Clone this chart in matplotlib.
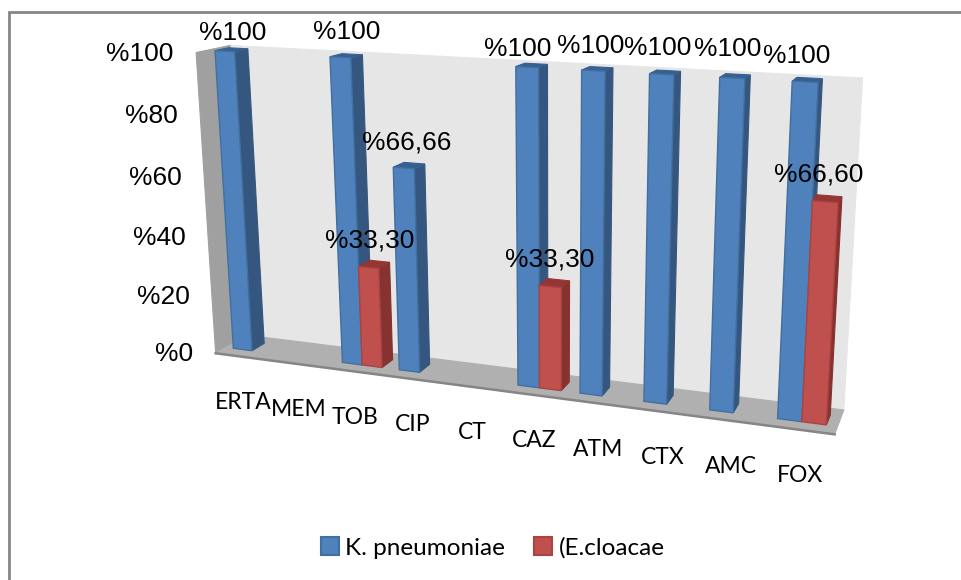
import numpy as np
import matplotlib
matplotlib.use('Agg')
import matplotlib.pyplot as plt
from matplotlib.patches import Polygon, Patch

categories = ['ERTA', 'MEM', 'TOB', 'CIP', 'CT', 'CAZ', 'ATM', 'CTX', 'AMC', 'FOX']
pneumoniae = [100, 0, 100, 66.66, 0, 100, 100, 100, 100, 100]
cloacae = [0, 0, 33.30, 0, 0, 33.30, 0, 0, 0, 66.60]
value_ticks = [0, 20, 40, 60, 80, 100]
series_names = ['K. pneumoniae', '(E.cloacae']

# offsets of the value labels from the top of their bar, in pixels
pneumoniae_nudge = {0: (8, -18), 2: (6, -25), 3: (3, -26), 5: (-9, -18), 6: (-3, -25),
                    7: (-4, -26), 8: (-5, -29), 9: (-8.5, -26)}
cloacae_nudge = {2: (1, -27), 5: (-1, -27), 9: (-7, -27)}

# (category fraction, value fraction, depth) -> pixel, used to fit the camera
calib_box = np.array([(0, 1, 0), (0, 0, 0), (1, 0, 0), (0, 1, 1), (0, 0, 1), (1, 0, 1), (1, 1, 1),
                      (.0115, 0, .32), (.3115, 0, .32), (.7115, 0, .32), (.9115, 0, .32), (.9115, 1, .32)])
calib_px = np.array([(197, 52), (215, 353), (834, 434), (229, 46), (248, 335), (844, 410), (862, 77),
                     (232, 348), (397, 370), (643, 402), (776, 418), (791, 82)]) / 1000.0

BAR_W = 0.035
GAP = 0.14
D0, D1 = 0.32, 0.72


def fit_camera(box, px):
    rows = []
    for (x, y, z), (a, b) in zip(box, px):
        rows.append([x, y, z, 1, 0, 0, 0, 0, -a * x, -a * y, -a * z, -a])
        rows.append([0, 0, 0, 0, x, y, z, 1, -b * x, -b * y, -b * z, -b])
    _, _, vt = np.linalg.svd(np.array(rows))
    return vt[-1].reshape(3, 4)


camera = fit_camera(calib_box, calib_px)


def project(u, v, d):
    p = camera @ np.array([u, v, d, 1.0])
    return p[0] / p[2] * 1000, p[1] / p[2] * 1000


def face(ax, pts, color, edge=None, lw=0.8, z=1):
    ax.add_patch(Polygon([project(*p) for p in pts], closed=True, facecolor=color,
                         edgecolor=edge if edge else color, linewidth=lw, zorder=z))


def draw_bar(ax, u0, value, front, side, top, edge):
    v = value / 100.0
    u1 = u0 + BAR_W
    face(ax, [(u1, 0, D0), (u1, 0, D1), (u1, v, D1), (u1, v, D0)], side)
    face(ax, [(u0, v, D0), (u1, v, D0), (u1, v, D1), (u0, v, D1)], top)
    face(ax, [(u0, 0, D0), (u1, 0, D0), (u1, v, D0), (u0, v, D0)], front, edge=edge, lw=1.0)


def pct(value):
    if value == int(value):
        return '%%%d' % value
    return ('%%%.2f' % value).replace('.', ',')


fig = plt.figure(figsize=(9.61, 5.80), dpi=100)
ax = fig.add_axes([0, 0, 1, 1])
ax.set_xlim(0, 961)
ax.set_ylim(580, 0)
ax.axis('off')

# chart area frame: only the top and left edges fall inside the image
ax.plot([8.5, 8.5, 961], [580, 12, 12], color='#868686', lw=2, zorder=0, solid_joinstyle='miter')

# back wall, side wall, floor
face(ax, [(0, 0, 1), (1, 0, 1), (1, 1, 1), (0, 1, 1)], '#e6e6e6')
face(ax, [(0, 0, 0), (0, 0, 1), (0, 1, 1), (0, 1, 0)], '#a0a0a0')
face(ax, [(0, 0, 0), (1, 0, 0), (1, 0, 1), (0, 0, 1)], '#b0b0b0')
ax.plot(*zip(project(0, 0, 0), project(1, 0, 0)), color='#858585', lw=1.8, zorder=1)

blue = ('#4f81bd', '#35577f', '#376092', '#41709f')
red = ('#c0504d', '#853230', '#943634', '#a94442')
for i in range(len(categories)):
    u0 = (i + GAP) / 10
    if pneumoniae[i] > 0:
        draw_bar(ax, u0, pneumoniae[i], *blue)
    if cloacae[i] > 0:
        draw_bar(ax, u0 + BAR_W, cloacae[i], *red)

arial = 'Liberation Sans'
for i in range(len(categories)):
    u0 = (i + GAP) / 10
    if pneumoniae[i] > 0:
        x, y = project(u0 + BAR_W / 2, pneumoniae[i] / 100.0, D0)
        dx, dy = pneumoniae_nudge[i]
        ax.text(x + dx, y + dy, pct(pneumoniae[i]), family=arial, fontsize=19, ha='center', va='center', zorder=5)
    if cloacae[i] > 0:
        x, y = project(u0 + BAR_W * 1.5, cloacae[i] / 100.0, D0)
        dx, dy = cloacae_nudge[i]
        ax.text(x + dx, y + dy, pct(cloacae[i]), family=arial, fontsize=19, ha='center', va='center', zorder=5)

for t in value_ticks:
    x, y = project(0, t / 100.0, 0)
    ax.text(x - 22.5, y + 1, '%%%d' % t, family=arial, fontsize=19, ha='right', va='center', zorder=5)

for i, name in enumerate(categories):
    x, y = project((i + 0.5) / 10, 0, 0)
    ax.text(x + 1, y + 46, name, family='Lato', fontsize=16.5, ha='center', va='center', zorder=5)

handles = [Patch(facecolor='#4f81bd', edgecolor='#41709f', linewidth=1.5),
           Patch(facecolor='#c0504d', edgecolor='#a94442', linewidth=1.5)]
ax.legend(handles, series_names, loc='center', bbox_to_anchor=(492.5 / 961, 1 - 548 / 580), ncol=2, frameon=False,
          prop={'family': 'Lato', 'size': 17.5}, handlelength=0.74, handleheight=0.74, handletextpad=0.25, columnspacing=1.23)

fig.savefig('out.png', dpi=100)
